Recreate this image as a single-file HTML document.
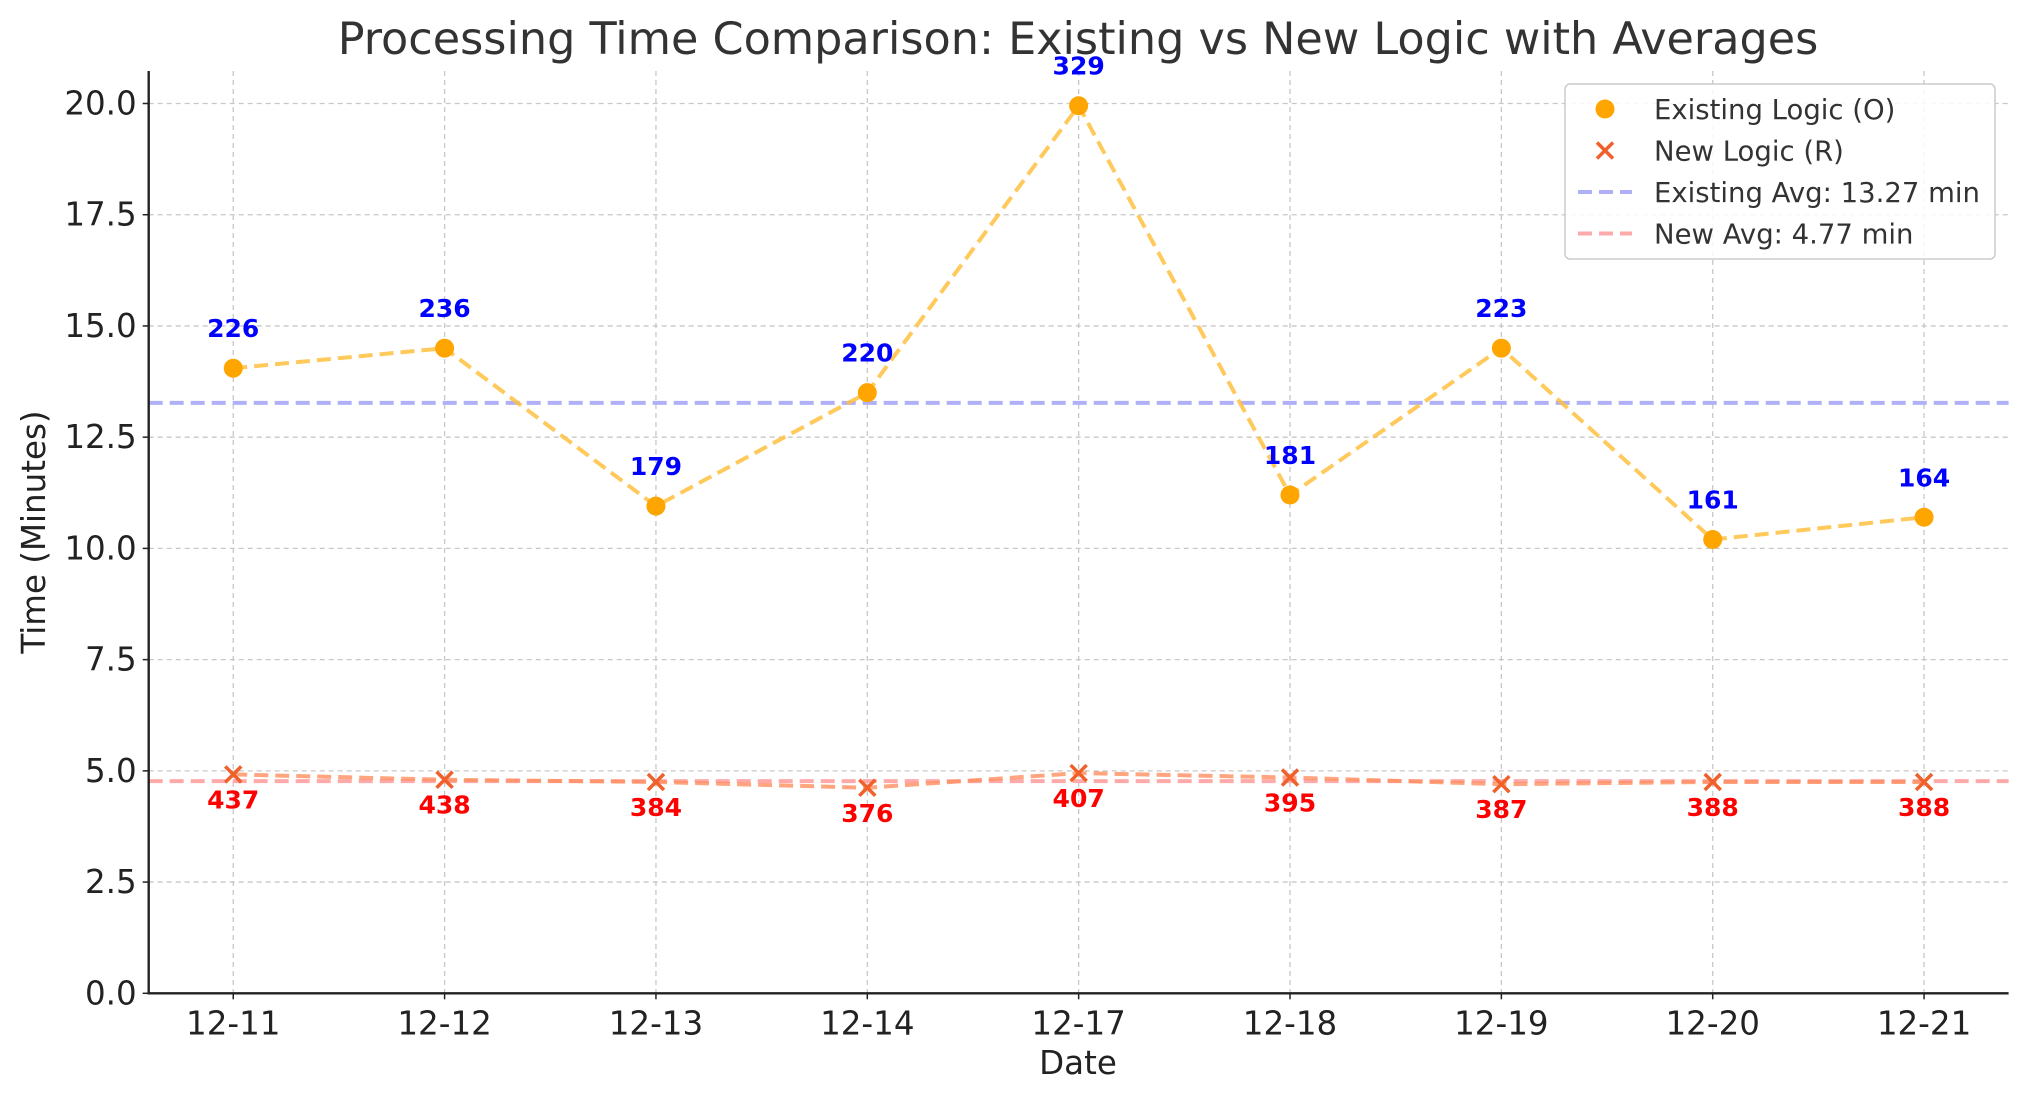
<!DOCTYPE html>
<html><head><meta charset="utf-8"><style>
body{margin:0;background:#fff;}
svg{display:block;font-family:"DejaVu Sans","Liberation Sans",sans-serif;}
</style></head><body>
<svg id="chart" width="2028" height="1101" viewBox="0 0 2028 1101">
<text x="1078" y="54" text-anchor="middle" font-size="44.5" fill="#333">Processing Time Comparison: Existing vs New Logic with Averages</text>
<g id="grid"></g><g id="avg"></g><g id="series"></g><g id="axes"></g>
<text transform="translate(45,532) rotate(-90)" text-anchor="middle" font-size="32.5" fill="#222">Time (Minutes)</text>
<text x="1078" y="1074" text-anchor="middle" font-size="32.5" fill="#222">Date</text>
<g id="legend"></g>
</svg>
<script>
const categories=["12-11","12-12","12-13","12-14","12-17","12-18","12-19","12-20","12-21"];
const existingVals=[14.05,14.5,10.95,13.5,19.95,11.2,14.5,10.2,10.7];
const newVals=[4.92,4.8,4.75,4.62,4.95,4.85,4.7,4.75,4.75];
const existingLabels=["226","236","179","220","329","181","223","161","164"];
const newLabels=["437","438","384","376","407","395","387","388","388"];
const existingAvg=13.27;
const newAvg=4.77;
const yTicks=[0,2.5,5,7.5,10,12.5,15,17.5,20];
const L=148.7,R=2008.6,T=71,B=993.3;
const x=i=>L+(i+0.4)*(R-L)/(categories.length-1+0.8);
const y=v=>B-v*(B-103.5)/20;
const NS="http://www.w3.org/2000/svg";
function mk(p,t,a){const e=document.createElementNS(NS,t);for(const k in a)e.setAttribute(k,a[k]);p.appendChild(e);return e;}
const grid=document.getElementById('grid'),axes=document.getElementById('axes'),avg=document.getElementById('avg'),ser=document.getElementById('series'),leg=document.getElementById('legend');
yTicks.forEach(v=>{
 const g=mk(grid,'line',{x1:L,x2:R,y1:y(v),y2:y(v),stroke:'#c8c8c8','stroke-width':1.3,'stroke-dasharray':'5,4'});
 
 
 const tk=mk(axes,'line',{x1:L-6,x2:L,y1:y(v),y2:y(v),stroke:'#222','stroke-width':1.5});
 
 
 const t=mk(axes,'text',{x:L-12,y:y(v)+11,'text-anchor':'end','font-size':32.5,fill:'#222'});t.textContent=v.toFixed(1);
 
 
});
categories.forEach((c,i)=>{
 const g=mk(grid,'line',{x1:x(i),x2:x(i),y1:T,y2:B,stroke:'#c8c8c8','stroke-width':1.3,'stroke-dasharray':'5,4'});
 
 
 const tk=mk(axes,'line',{x1:x(i),x2:x(i),y1:B,y2:B+6,stroke:'#222','stroke-width':1.5});
 
 
 const t=mk(axes,'text',{x:x(i),y:B+41,'text-anchor':'middle','font-size':32.5,fill:'#222'});t.textContent=c;
 
 
});
const ax=mk(axes,'path',{d:`M${L},${T}V${B}H${R}`,fill:'none',stroke:'#222','stroke-width':2.4});


const a1=mk(avg,'line',{x1:L,x2:R,y1:y(existingAvg),y2:y(existingAvg),stroke:'#b0b0f8','stroke-width':4,'stroke-dasharray':'14,7'});


const a2=mk(avg,'line',{x1:L,x2:R,y1:y(newAvg),y2:y(newAvg),stroke:'#ffaaaa','stroke-width':4,'stroke-dasharray':'14,7'});


const p1=mk(ser,'polyline',{points:existingVals.map((v,i)=>x(i)+','+y(v)).join(' '),fill:'none',stroke:'#ffc040','stroke-opacity':0.85,'stroke-width':4,'stroke-dasharray':'14,7'});


const p2=mk(ser,'polyline',{points:newVals.map((v,i)=>x(i)+','+y(v)).join(' '),fill:'none',stroke:'#ff9060','stroke-opacity':0.8,'stroke-width':4,'stroke-dasharray':'14,7'});


existingVals.forEach((v,i)=>{
 const c=mk(ser,'circle',{cx:x(i),cy:y(v),r:9.5,fill:'#ffa500'});
 
 
 const t=mk(ser,'text',{x:x(i),y:y(v)-31,'text-anchor':'middle','font-size':25,'font-weight':'bold',fill:'#0000ff'});t.textContent=existingLabels[i];
 
 
});
newVals.forEach((v,i)=>{
 const X=x(i),Y=y(v),s=8;
 const m=mk(ser,'path',{d:`M${X-s},${Y-s}L${X+s},${Y+s}M${X-s},${Y+s}L${X+s},${Y-s}`,stroke:'#f0602a','stroke-width':3.5});
 
 
 const t=mk(ser,'text',{x:X,y:Y+34,'text-anchor':'middle','font-size':25,'font-weight':'bold',fill:'#ff0000'});t.textContent=newLabels[i];
 
 
});
const box=mk(leg,'rect',{x:1565,y:84,width:430,height:175,rx:5,fill:'#fff','fill-opacity':0.85,stroke:'#ccc','stroke-width':1.5});


const entries=["Existing Logic (O)","New Logic (R)","Existing Avg: 13.27 min","New Avg: 4.77 min"];
entries.forEach((e,k)=>{
 const cy=109+k*41.5;
 if(k==0){const c=mk(leg,'circle',{cx:1605,cy:cy,r:9.5,fill:'#ffa500'});}
 else if(k==1){const m=mk(leg,'path',{d:`M1597,${cy-8}L1613,${cy+8}M1597,${cy+8}L1613,${cy-8}`,stroke:'#f0602a','stroke-width':3.5});}
 else{const l=mk(leg,'line',{x1:1578,x2:1632,y1:cy,y2:cy,stroke:k==2?'#b0b0f8':'#ffaaaa','stroke-width':4,'stroke-dasharray':'14,7'});}
 const t=mk(leg,'text',{x:1654,y:cy+10,'font-size':27.5,fill:'#333'});t.textContent=e;
 
 
});
</script>
</body></html>
